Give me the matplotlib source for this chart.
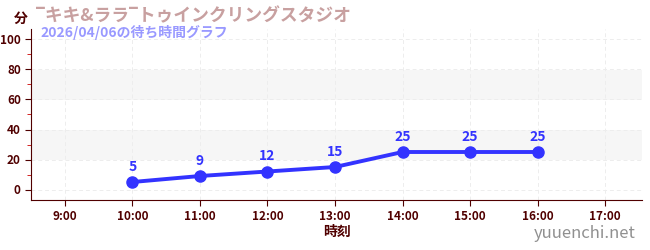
import matplotlib
matplotlib.use("Agg")
import matplotlib.pyplot as plt
from matplotlib.ticker import MultipleLocator

plt.rcParams['font.family'] = ['Noto Sans CJK JP', 'DejaVu Sans']

hours = [10, 11, 12, 13, 14, 15, 16]
waits = [5, 9, 12, 15, 25, 25, 25]
tick_hours = [9, 10, 11, 12, 13, 14, 15, 16, 17]
tick_labels = [f"{h}:00" for h in tick_hours]
title = "‾キキ&ララ‾トゥインクリングスタジオ"
subtitle = "2026/04/06の待ち時間グラフ"

axis_col = "#500000"

fig = plt.figure(figsize=(6.5, 2.5), dpi=100)
ax = fig.add_axes([0.048, 0.2, 0.94, 0.684])

ax.set_xlim(8.5, 17.55)
ax.set_ylim(-7, 107)

# shaded bands
for lo, hi in [(20, 40), (60, 80)]:
    ax.axhspan(lo, hi, color="#f6f6f6", zorder=0, lw=0)

ax.grid(True, color="#ededed", linestyle=(0, (4, 3)), lw=0.7, zorder=1)
ax.set_axisbelow(True)

ax.plot(hours, waits, color="#3333ff", lw=2.8, marker="o", ms=8, zorder=3)
for h, w in zip(hours, waits):
    ax.annotate(str(w), (h, w), xytext=(0, 6), textcoords="offset points",
                ha="center", va="bottom", color="#3333ff", fontsize=10, fontweight="bold")

ax.set_xticks(tick_hours)
ax.set_xticklabels(tick_labels)
ax.set_yticks([0, 20, 40, 60, 80, 100])
ax.yaxis.set_minor_locator(MultipleLocator(10))
ax.tick_params(axis="both", colors=axis_col, labelsize=8.5, length=4)
ax.tick_params(axis="y", which="minor", colors="#cc0000", length=3)
for lab in ax.get_xticklabels() + ax.get_yticklabels():
    lab.set_fontweight("bold")

for s in ["top", "right"]:
    ax.spines[s].set_visible(False)
for s in ["left", "bottom"]:
    ax.spines[s].set_color(axis_col)

ax.set_xlabel("時刻", color=axis_col, fontsize=10, fontweight="bold", labelpad=1)

fig.text(0.022, 0.925, "分", color=axis_col, fontsize=10, fontweight="bold", ha="left", va="center")
fig.text(0.055, 0.935, title, color="#c8a0a0", fontsize=12.8, fontweight="bold", ha="left", va="center")
fig.text(0.063, 0.87, subtitle, color="#9999ff", fontsize=10, fontweight="bold", ha="left", va="center")
fig.text(0.978, 0.065, "yuuenchi.net", color="#909090", fontsize=12, ha="right", va="center")

fig.savefig("out.png", dpi=100)
